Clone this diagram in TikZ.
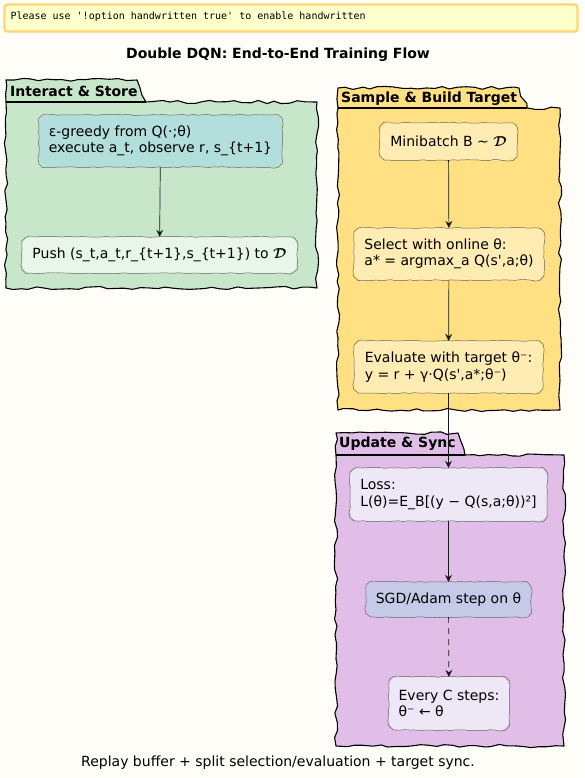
\documentclass[tikz,border=0pt]{standalone}
\usepackage{fontspec}
\usepackage{amsmath}
\setmainfont{DejaVu Sans}[Ligatures=TeXOff]
\setmonofont{DejaVu Sans Mono}[Ligatures=TeXOff]
\usetikzlibrary{decorations.pathmorphing,arrows.meta}
\definecolor{bgc}{HTML}{FEFDF7}
\definecolor{warnfill}{HTML}{FFFFCC}
\definecolor{warnline}{HTML}{FFD575}
\definecolor{pkggreen}{HTML}{C8E6C9}
\definecolor{pkgyellow}{HTML}{FFE082}
\definecolor{pkgpurple}{HTML}{E1BEE7}
\definecolor{tealbox}{HTML}{B2DFDB}
\definecolor{palegreen}{HTML}{E8F5E9}
\definecolor{paleyellow}{HTML}{FFECB3}
\definecolor{palepurple}{HTML}{EDE7F6}
\definecolor{indigobox}{HTML}{C5CAE9}
\newcommand{\scrD}{$\boldsymbol{\mathcal{D}}$}
\newcommand{\wbox}[1]{\draw[boxline]
  ([xshift=9pt]#1.north west) -- ([xshift=-9pt]#1.north east)
  arc[start angle=90,end angle=0,radius=9pt] -- ([yshift=9pt]#1.south east)
  arc[start angle=0,end angle=-90,radius=9pt] -- ([xshift=9pt]#1.south west)
  arc[start angle=-90,end angle=-180,radius=9pt] -- ([yshift=-9pt]#1.north west)
  arc[start angle=180,end angle=90,radius=9pt] -- cycle;}
\tikzset{
  pkgshape/.style={draw=black, line width=1.1pt, line join=round,
    decorate, decoration={random steps, segment length=8pt, amplitude=1.6pt}},
  pkglabel/.style={anchor=west, font=\fontsize{14}{16}\selectfont\bfseries, inner sep=0pt},
  box/.style={rounded corners=9pt, align=left,
    font=\fontsize{14}{16.5}\selectfont, inner sep=0pt},
  boxline/.style={draw=black!60, line width=0.5pt, line join=round,
    decorate, decoration={random steps, segment length=5pt, amplitude=0.55pt}},
  flow/.style={draw=black!90, line width=0.7pt, -{Stealth[length=7pt,width=7pt,inset=2.5pt]}},
}
\begin{document}
\begin{tikzpicture}[x=1pt,y=-1pt]
\useasboundingbox (0,0) rectangle (584,778);
\fill[bgc] (0,0) rectangle (584,778);
\pgfmathsetseed{7}
% warning
\node[draw=warnline, line width=2.2pt, fill=warnfill, rounded corners=3pt,
  minimum width=573pt, minimum height=27pt, inner sep=0pt] (warn) at (291,18) {};
\node[anchor=west, font=\ttfamily\fontsize{10}{12}\selectfont, inner sep=0pt] (warntext) at (10.3,17) {Please use '!option handwritten true' to enable handwritten};
% title
\node[font=\fontsize{14}{16}\selectfont\bfseries, inner sep=0pt] (title) at (278,55) {Double DQN: End-to-End Training Flow};
% packages
\path[pkgshape, fill=pkggreen] (6,102) -- (6,80) -- (137,80) -- (146,102) -- (317,102) -- (317,288) -- (6,288) -- cycle;
\draw[line width=1.1pt] (6,102) -- (146,102);
\node[pkglabel] (p1) at (10,91) {Interact \& Store};

\path[pkgshape, fill=pkgyellow] (338,108) -- (338,88) -- (519,88) -- (527,108) -- (560,108) -- (560,410) -- (338,410) -- cycle;
\draw[line width=1.1pt] (338,108) -- (527,108);
\node[pkglabel] (p2) at (341,98.5) {Sample \& Build Target};

\path[pkgshape, fill=pkgpurple] (336,455) -- (336,433) -- (458,433) -- (465,455) -- (564,455) -- (564,746) -- (336,746) -- cycle;
\draw[line width=1.1pt] (336,455) -- (465,455);
\node[pkglabel] (p3) at (339,444) {Update \& Sync};
% nodes
\node[box, fill=tealbox, minimum width=243pt, minimum height=52pt] (A) at (160.5,141)
  {ε-greedy from Q(·;θ)\\execute a\_t, observe r, s\_\{t+1\}};
\node[box, fill=palegreen, minimum width=275pt, minimum height=36pt] (B) at (159.5,255)
  {Push (s\_t,a\_t,r\_\{t+1\},s\_\{t+1\}) to \scrD};
\node[box, fill=paleyellow, minimum width=137pt, minimum height=37pt] (C) at (448.5,141.5)
  {Minibatch B \textasciitilde{} \scrD};
\node[box, fill=paleyellow, minimum width=190pt, minimum height=52pt] (D) at (449,254)
  {Select with online θ:\\a* = argmax\_a Q(s',a;θ)};
\node[box, fill=paleyellow, minimum width=189pt, minimum height=52pt] (E) at (448.5,367)
  {Evaluate with target θ⁻:\\y = r + γ·Q(s',a*;θ⁻)};
\node[box, fill=palepurple, minimum width=197pt, minimum height=53pt] (F) at (448.5,494.5)
  {Loss:\\L(θ)=E\_B[(y − Q(s,a;θ))²]};
\node[box, fill=indigobox, minimum width=165pt, minimum height=35pt] (G) at (448.5,599.5)
  {SGD/Adam step on θ};
\node[box, fill=palepurple, minimum width=120pt, minimum height=53pt] (H) at (449,703.5)
  {Every C steps:\\θ⁻ ← θ};
\wbox{A}\wbox{B}\wbox{C}\wbox{D}\wbox{E}\wbox{F}\wbox{G}\wbox{H}
% edges
\draw[flow] (A) -- (B);
\draw[flow] (C) -- (D);
\draw[flow] (D) -- (E);
\draw[flow] (E) -- (F);
\draw[flow] (F) -- (G);
\draw[flow, dash pattern=on 6pt off 5pt] (G) -- (H);
% caption
\node[font=\fontsize{14}{16}\selectfont, inner sep=0pt] (cap) at (278,763) {Replay buffer + split selection/evaluation + target sync.};
\end{tikzpicture}
\end{document}
